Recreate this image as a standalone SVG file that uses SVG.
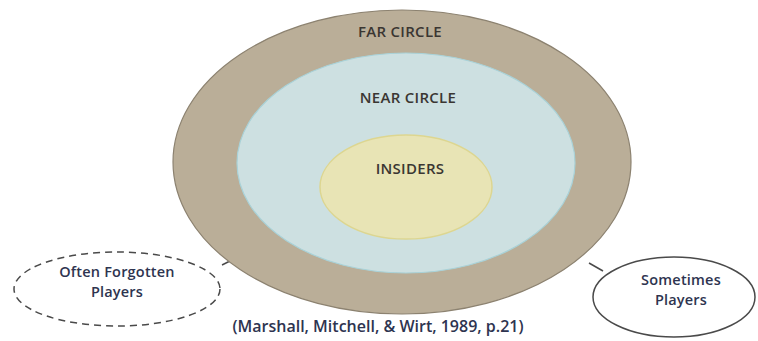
<svg xmlns="http://www.w3.org/2000/svg" width="758" height="341" viewBox="0 0 758 341">
<style>
text{font-family:"Open Sans","Liberation Sans",sans-serif;text-anchor:middle;font-weight:600;}
.lbl{font-size:15px;fill:#3a3632;letter-spacing:0.3px;}
.side{font-size:14.5px;fill:#2e3450;letter-spacing:0.2px;}
.cite{font-size:16px;fill:#2e3450;}
.conn{stroke:#4a4a4a;stroke-width:1.5;fill:none;}
</style>
<rect width="758" height="341" fill="#ffffff"/>
<g id="connectors">
<line class="conn" x1="222" y1="265" x2="230" y2="261"/>
<line class="conn" x1="589" y1="263" x2="603" y2="271"/>
</g>
<g id="far-circle">
<ellipse cx="402" cy="162" rx="229" ry="152" fill="#baae98" stroke="#8c8270" stroke-width="1.2"/>
<text class="lbl" x="400" y="37">FAR CIRCLE</text>
</g>
<g id="near-circle">
<ellipse cx="406" cy="163" rx="169" ry="110" fill="#cde0e1" stroke="#a9d2d8" stroke-width="1.2"/>
<text class="lbl" x="408" y="103">NEAR CIRCLE</text>
</g>
<g id="insiders">
<ellipse cx="406" cy="187" rx="86" ry="52" fill="#e8e4b5" stroke="#ddd690" stroke-width="1.5"/>
<text class="lbl" x="410" y="174">INSIDERS</text>
</g>
<g id="often-forgotten">
<ellipse cx="117" cy="289" rx="103" ry="37" fill="#ffffff" stroke="#4a4a4a" stroke-width="1.5" stroke-dasharray="7,5"/>
<text class="side" x="117" y="277">Often Forgotten</text>
<text class="side" x="117" y="297">Players</text>
</g>
<g id="sometimes">
<ellipse cx="674" cy="297" rx="81" ry="40" fill="#ffffff" stroke="#4a4a4a" stroke-width="1.5"/>
<text class="side" x="681" y="285">Sometimes</text>
<text class="side" x="681" y="305">Players</text>
</g>
<text class="cite" x="378" y="332">(Marshall, Mitchell, &amp; Wirt, 1989, p.21)</text>
</svg>
